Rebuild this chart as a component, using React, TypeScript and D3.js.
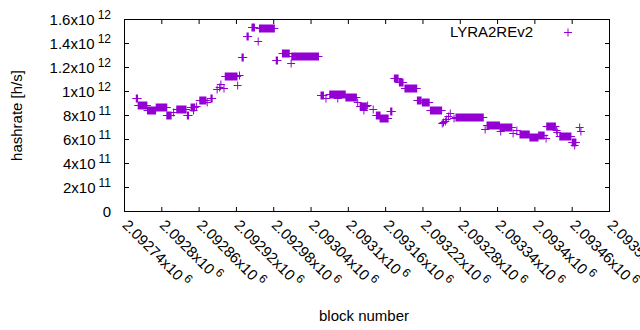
import React from "react";
import * as d3 from "d3";

// Runs of blocks sharing one hashrate estimate (block start, block end, hashrate h/s)
const runStart = [2092759, 2092762, 2092777, 2092791, 2092808, 2092819, 2092824, 2092841, 2092847, 2092851, 2092856, 2092861, 2092873, 2092879, 2092889, 2092893, 2092895, 2092900, 2092902, 2092922, 2092925, 2092929, 2092937, 2092945, 2092955, 2092957, 2092984, 2092994, 2093008, 2093009, 2093056, 2093064, 2093070, 2093083, 2093096, 2093115, 2093119, 2093125, 2093131, 2093140, 2093145, 2093151, 2093168, 2093174, 2093182, 2093191, 2093211, 2093219, 2093232, 2093251, 2093253, 2093256, 2093258, 2093261, 2093264, 2093270, 2093273, 2093320, 2093323, 2093344, 2093345, 2093365, 2093371, 2093376, 2093392, 2093406, 2093418, 2093419, 2093435, 2093436, 2093440, 2093460, 2093464, 2093472, 2093474];
const runEnd = [2092761, 2092776, 2092790, 2092808, 2092815, 2092819, 2092839, 2092843, 2092853, 2092851, 2092856, 2092871, 2092873, 2092881, 2092889, 2092893, 2092895, 2092900, 2092921, 2092922, 2092925, 2092931, 2092939, 2092949, 2092955, 2092981, 2092986, 2093005, 2093008, 2093052, 2093060, 2093064, 2093095, 2093083, 2093113, 2093115, 2093129, 2093125, 2093131, 2093140, 2093151, 2093164, 2093170, 2093180, 2093188, 2093210, 2093217, 2093230, 2093250, 2093251, 2093253, 2093256, 2093258, 2093261, 2093264, 2093270, 2093317, 2093320, 2093343, 2093363, 2093345, 2093365, 2093371, 2093391, 2093405, 2093415, 2093418, 2093433, 2093435, 2093436, 2093458, 2093466, 2093464, 2093472, 2093474];
const runValue = [9.42e11, 8.89e11, 8.47e11, 8.75e11, 8.06e11, 8.33e11, 8.56e11, 8.06e11, 8.67e11, 8.42e11, 8.78e11, 9.31e11, 9.11e11, 9.44e11, 1.025e12, 1.036e12, 1.064e12, 1.028e12, 1.131e12, 1.056e12, 1.139e12, 1.289e12, 1.464e12, 1.539e12, 1.417e12, 1.531e12, 1.264e12, 1.323e12, 1.239e12, 1.297e12, 9.72e11, 9.5e11, 9.81e11, 9.42e11, 9.58e11, 9.14e11, 8.83e11, 8.5e11, 8.89e11, 8.58e11, 8.04e11, 7.79e11, 8.37e11, 1.114e12, 1.083e12, 1.031e12, 9.31e11, 9.12e11, 8.47e11, 7.36e11, 7.44e11, 7.58e11, 7.71e11, 8.0e11, 8.25e11, 7.79e11, 7.87e11, 6.86e11, 7.22e11, 7.04e11, 6.67e11, 6.54e11, 6.79e11, 6.47e11, 6.21e11, 6.37e11, 6.14e11, 7.14e11, 6.79e11, 6.61e11, 6.32e11, 5.79e11, 5.58e11, 7.03e11, 6.75e11];

const seriesName = "LYRA2REv2";

const xTickValues = [2092740, 2092800, 2092860, 2092920, 2092980, 2093040, 2093100, 2093160, 2093220, 2093280, 2093340, 2093400, 2093460, 2093520];
const xTickMant = ["2.09274", "2.0928", "2.09286", "2.09292", "2.09298", "2.09304", "2.0931", "2.09316", "2.09322", "2.09328", "2.09334", "2.0934", "2.09346", "2.09352"];
const xTickExp = ["6", "6", "6", "6", "6", "6", "6", "6", "6", "6", "6", "6", "6", "6"];

const yTickValues = [0, 2e11, 4e11, 6e11, 8e11, 1e12, 1.2e12, 1.4e12, 1.6e12];
const yTickMant = ["0", "2x10", "4x10", "6x10", "8x10", "1x10", "1.2x10", "1.4x10", "1.6x10"];
const yTickExp = ["", "11", "11", "11", "11", "12", "12", "12", "12"];

const COLOR = "#9400d3";
const FONT = "'Liberation Sans', Arial, sans-serif";

export default function App() {
  const left = 124.5, right = 609.5, top = 19.5, bottom = 211.5;
  const x = d3.scaleLinear().domain([2092740, 2093520]).range([left, right]);
  const y = d3.scaleLinear().domain([0, 1.6e12]).range([bottom, top]);
  const s = 4;
  const tick = 4.5;

  const runs = runStart.map((b, i) => ({ b0: b, b1: runEnd[i], v: runValue[i] }));

  return (
    <svg width={640} height={330} style={{ position: "absolute", left: 0, top: 0, background: "#fff" }} fontFamily={FONT}>
      <rect x={0} y={0} width={640} height={330} fill="#fff" />
      {/* ticks */}
      {xTickValues.map((t, i) => (
        <g key={"xt" + i}>
          <line x1={x(t)} x2={x(t)} y1={bottom} y2={bottom - tick} stroke="#000" />
          <line x1={x(t)} x2={x(t)} y1={top} y2={top + tick} stroke="#000" />
        </g>
      ))}
      {yTickValues.map((t, i) => (
        <g key={"yt" + i}>
          <line x1={left} x2={left + tick} y1={y(t)} y2={y(t)} stroke="#000" />
          <line x1={right} x2={right - tick} y1={y(t)} y2={y(t)} stroke="#000" />
        </g>
      ))}
      <rect x={left} y={top} width={right - left} height={bottom - top} fill="none" stroke="#000" />
      {/* y labels */}
      {yTickValues.map((t, i) => (
        <text key={"yl" + i} x={111} y={y(t) + 5} textAnchor="end" fontSize={15} fill="#000">
          {yTickMant[i]}
          {yTickExp[i] ? (
            <tspan dx={3} dy={-6} fontSize={12}>{yTickExp[i]}</tspan>
          ) : null}
        </text>
      ))}
      {/* x labels */}
      {xTickValues.map((t, i) => (
        <text key={"xl" + i} transform={`translate(${x(t)},${bottom + 10}) rotate(45)`} fontSize={15} fill="#000" dy="0.35em" x={1}>
          {xTickMant[i]}x10
          <tspan dx={3} dy={-6} fontSize={12}>{xTickExp[i]}</tspan>
        </text>
      ))}
      {/* axis titles */}
      <text transform={`translate(22,${(top + bottom) / 2}) rotate(-90)`} textAnchor="middle" fontSize={15} fill="#000">hashrate [h/s]</text>
      <text x={364} y={321} textAnchor="middle" fontSize={15} fill="#000">block number</text>
      {/* data */}
      <g stroke={COLOR} fill={COLOR} strokeWidth={1}>
        {runs.map((r, i) => {
          const xa = x(r.b0), xb = x(r.b1), yy = Math.round(y(r.v)) + 0.5;
          return (
            <g key={"r" + i}>
              <line x1={xa - s} x2={xb + s} y1={yy} y2={yy} />
              <rect x={xa - 0.5} y={yy - s} width={xb - xa + 1} height={2 * s} stroke="none" />
            </g>
          );
        })}
      </g>
      {/* legend */}
      <text x={533} y={37} textAnchor="end" fontSize={15} fill="#000">{seriesName}</text>
      <g stroke={COLOR} strokeWidth={1}>
        <line x1={568 - s} x2={568 + s} y1={32.5} y2={32.5} />
        <line x1={568} x2={568} y1={32.5 - s} y2={32.5 + s} />
      </g>
    </svg>
  );
}
